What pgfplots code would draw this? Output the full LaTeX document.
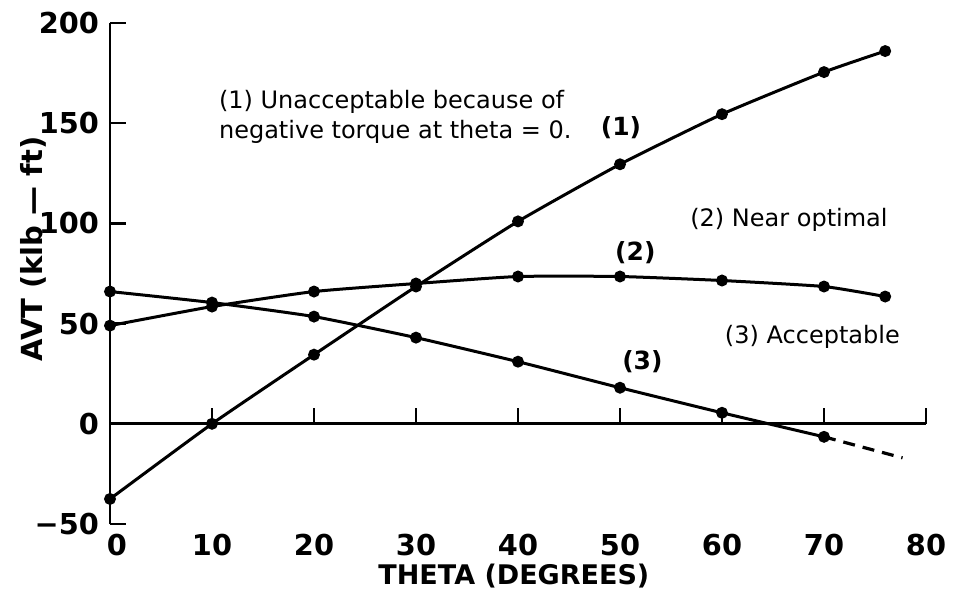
\documentclass[border=0pt]{standalone}
\usepackage{fontspec}
\setmainfont{DejaVu Sans}
\usepackage{pgfplots}
\pgfplotsset{compat=1.18}
\usetikzlibrary{calc}
\begin{document}
\begin{tikzpicture}
\begin{axis}[name=ax,
  scale only axis, width=408pt, height=250.5pt,
  xmin=0, xmax=80, ymin=-50, ymax=200,
  clip=false,
  axis x line=middle, axis y line=left,
  axis line style={line width=1.4pt, -},
  every tick/.style={line width=1.3pt, black},
  major tick length=8pt,
  tick align=inside,
  xtick={0,10,20,30,40,50,60,70,80},
  xticklabels={\hspace*{7pt}0,10,20,30,40,50,60,70,80},
  ytick={-50,0,50,100,150,200},
  yticklabels={−50,0,50,100,150,200},
  hide obscured x ticks=false, hide obscured y ticks=false,
  /pgf/number format/assume math mode=true,
  tick label style={font=\fontsize{14.4}{16}\selectfont\bfseries},
  xticklabel style={yshift=-51.5pt},
  yticklabel style={xshift=-2pt},
]
\addplot[line width=1.5pt, smooth, tension=0.3, mark=*, mark size=2.2pt]
  coordinates {(0,-37.5)(10,0)(20,34.5)(30,68.5)(40,101)(50,129.5)(60,154.5)(70,175.5)(76,186)};
\addplot[line width=1.5pt, smooth, tension=0.3, mark=*, mark size=2.2pt]
  coordinates {(0,49)(10,58.5)(20,66)(30,70)(40,73.5)(50,73.5)(60,71.5)(70,68.5)(76,63.5)};
\addplot[line width=1.5pt, smooth, tension=0.3, mark=*, mark size=2.2pt]
  coordinates {(0,66)(10,60.5)(20,53.5)(30,43)(40,31)(50,18)(60,5.5)(70,-6.5)};
\addplot[line width=1.6pt, dash pattern=on 6pt off 4pt]
  coordinates {(70,-6.5)(77.7,-17)};

\node[align=left, anchor=west, font=\fontsize{12}{15}\selectfont] at (axis cs:10,153)
  {(1) Unacceptable because of\\negative torque at theta = 0.};
\node[font=\fontsize{12.5}{15}\selectfont\bfseries] at (axis cs:50.1,148) {(1)};
\node[font=\fontsize{12.5}{15}\selectfont\bfseries] at (axis cs:51.5,85.5) {(2)};
\node[font=\fontsize{12.5}{15}\selectfont\bfseries] at (axis cs:52.2,31) {(3)};
\node[anchor=west, font=\fontsize{12}{15}\selectfont] at (axis cs:56.2,102) {(2) Near optimal};
\node[anchor=west, font=\fontsize{12}{15}\selectfont] at (axis cs:59.6,43.5) {(3) Acceptable};
\node[anchor=center, rotate=90, font=\fontsize{14.5}{16}\selectfont\bfseries] at (rel axis cs:-0.0938,0.549) {AVT (klb — ft)};
\node[anchor=north, yshift=-16.5pt, font=\fontsize{13.5}{16}\selectfont\bfseries] at (axis cs:39.6,-50) {THETA (DEGREES)};
\end{axis}
\pgfresetboundingbox
\path[use as bounding box] ($(ax.south west)+(-55pt,-38pt)$) rectangle ($(ax.north east)+(15.5pt,11.5pt)$);
\end{tikzpicture}
\end{document}
